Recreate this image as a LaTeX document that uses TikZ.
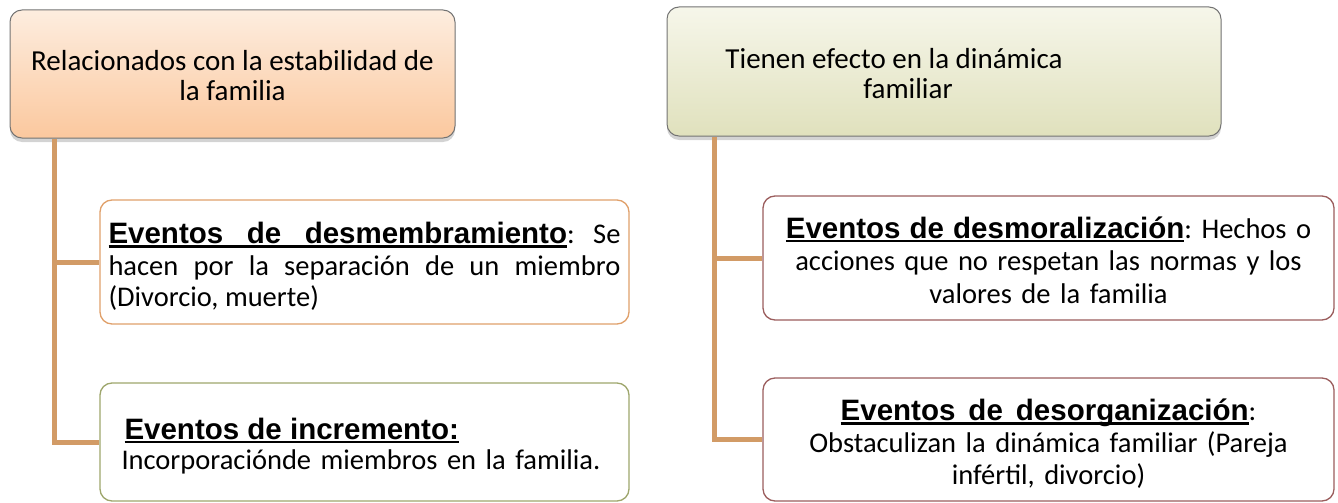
\documentclass[tikz,border=0pt]{standalone}
\usepackage{fontspec}
\setmainfont{Carlito}
\newfontfamily\arialfont{Liberation Sans}
\usetikzlibrary{shadows}

\definecolor{peachtop}{HTML}{FDEDDF}
\definecolor{peachbot}{HTML}{FBC89E}
\definecolor{creamtop}{HTML}{F6F6EA}
\definecolor{creambot}{HTML}{E0E1BD}
\definecolor{linkcolor}{HTML}{D29B66}
\definecolor{orangeline}{HTML}{E0A06A}
\definecolor{oliveline}{HTML}{9EA66C}
\definecolor{wineline}{HTML}{9B5D5D}

% bold underlined word, and an underlined (stretchable) space
\newcommand{\evword}[1]{{\arialfont\bfseries\fontsize{29.5}{31.5}\selectfont\setbox0=\hbox{#1}\rlap{\rule[-4pt]{\wd0}{2.6pt}}\box0}}
\newcommand{\evsp}{{\arialfont\bfseries\fontsize{29.5}{31.5}\selectfont\leaders\hrule height -1.4pt depth 4pt\hskip\fontdimen2\font plus\fontdimen3\font}}

\begin{document}
\frenchspacing
\begin{tikzpicture} [
            x=1pt, y=-1pt,
            font=\fontsize{29}{30}\selectfont,
            head box/.style = {draw=black!55,line width=1pt,rounded corners=12pt,
                drop shadow={opacity=0.35,shadow xshift=0pt,shadow yshift=-4pt},
                inner sep=0pt,align=center},
            event box/.style = {draw,fill=white,line width=1.3pt,rounded corners=12pt,
                inner sep=0pt},
            link/.style = {draw,line width=5pt,linkcolor},
        ]
        \useasboundingbox (0,0) rectangle (1338,503);
        % First we draw the two heading boxes
        \node[head box,top color=peachtop,bottom color=peachbot,
              minimum width=445pt,minimum height=128pt] (stab) at (232.5,74)
            {\raisebox{-5.5pt}[\height][\depth]{\begin{tabular}{@{}c@{}}Relacionados con la estabilidad de\\la familia\end{tabular}}};
        \node[head box,top color=creamtop,bottom color=creambot,
              minimum width=554pt,minimum height=129pt] (dyn) at (944,71.5)
            {\hspace*{-100pt}\raisebox{-6pt}[\height][\depth]{\begin{tabular}{@{}c@{}}Tienen efecto en la dinámica\\ \hspace*{28pt}familiar\end{tabular}}};
        % then the event boxes
        \node[event box,draw=orangeline,minimum width=529pt,minimum height=124pt,
              text width=512pt,align=justify,font=\fontsize{28.5}{31.5}\selectfont] (dism) at (364.5,262)
            {\rule{0pt}{30pt}\evword{Eventos}\evsp\evword{de}\evsp\evword{desmembramiento}: Se\linebreak
             hacen por la separación de un miembro\linebreak
             (Divorcio, muerte)};
        \node[event box,draw=oliveline,minimum width=529pt,minimum height=118pt,
              text width=500pt,align=left,font=\fontsize{28.5}{30}\selectfont] (incr) at (364.5,442)
            {\rule{0pt}{29pt}\hspace*{10pt}\evword{Eventos}\evsp\evword{de}\evsp\evword{incremento:}\\
             \hspace*{7pt}Incorporaciónde miembros en la familia.};
        \node[event box,draw=wineline,minimum width=571pt,minimum height=124pt,
              text width=550pt,align=center,font=\fontsize{28.5}{32.5}\selectfont] (desm) at (1048.5,258)
            {\rule{0pt}{26pt}\evword{Eventos}\evsp\evword{de}\evsp\evword{desmoralización}: Hechos o\\
             acciones que no respetan las normas y los\\
             valores de la familia};
        \node[event box,draw=wineline,minimum width=571pt,minimum height=123pt,
              text width=550pt,align=center,font=\fontsize{28.5}{32}\selectfont] (desor) at (1048.5,439.5)
            {\rule{0pt}{30pt}\evword{Eventos}\evsp\evword{de}\evsp\evword{desorganización}:\\
             Obstaculizan la dinámica familiar (Pareja\\
             infértil, divorcio)};
        % Connect heading boxes with their events
        \foreach \source/\dest/\shift in {stab/dism/45pt,stab/incr/45pt,
                dyn/desm/48pt,dyn/desor/48pt}
            \path[link] ([xshift=\shift]\source.south west) |- (\dest.west);
    \end{tikzpicture}
\end{document}
